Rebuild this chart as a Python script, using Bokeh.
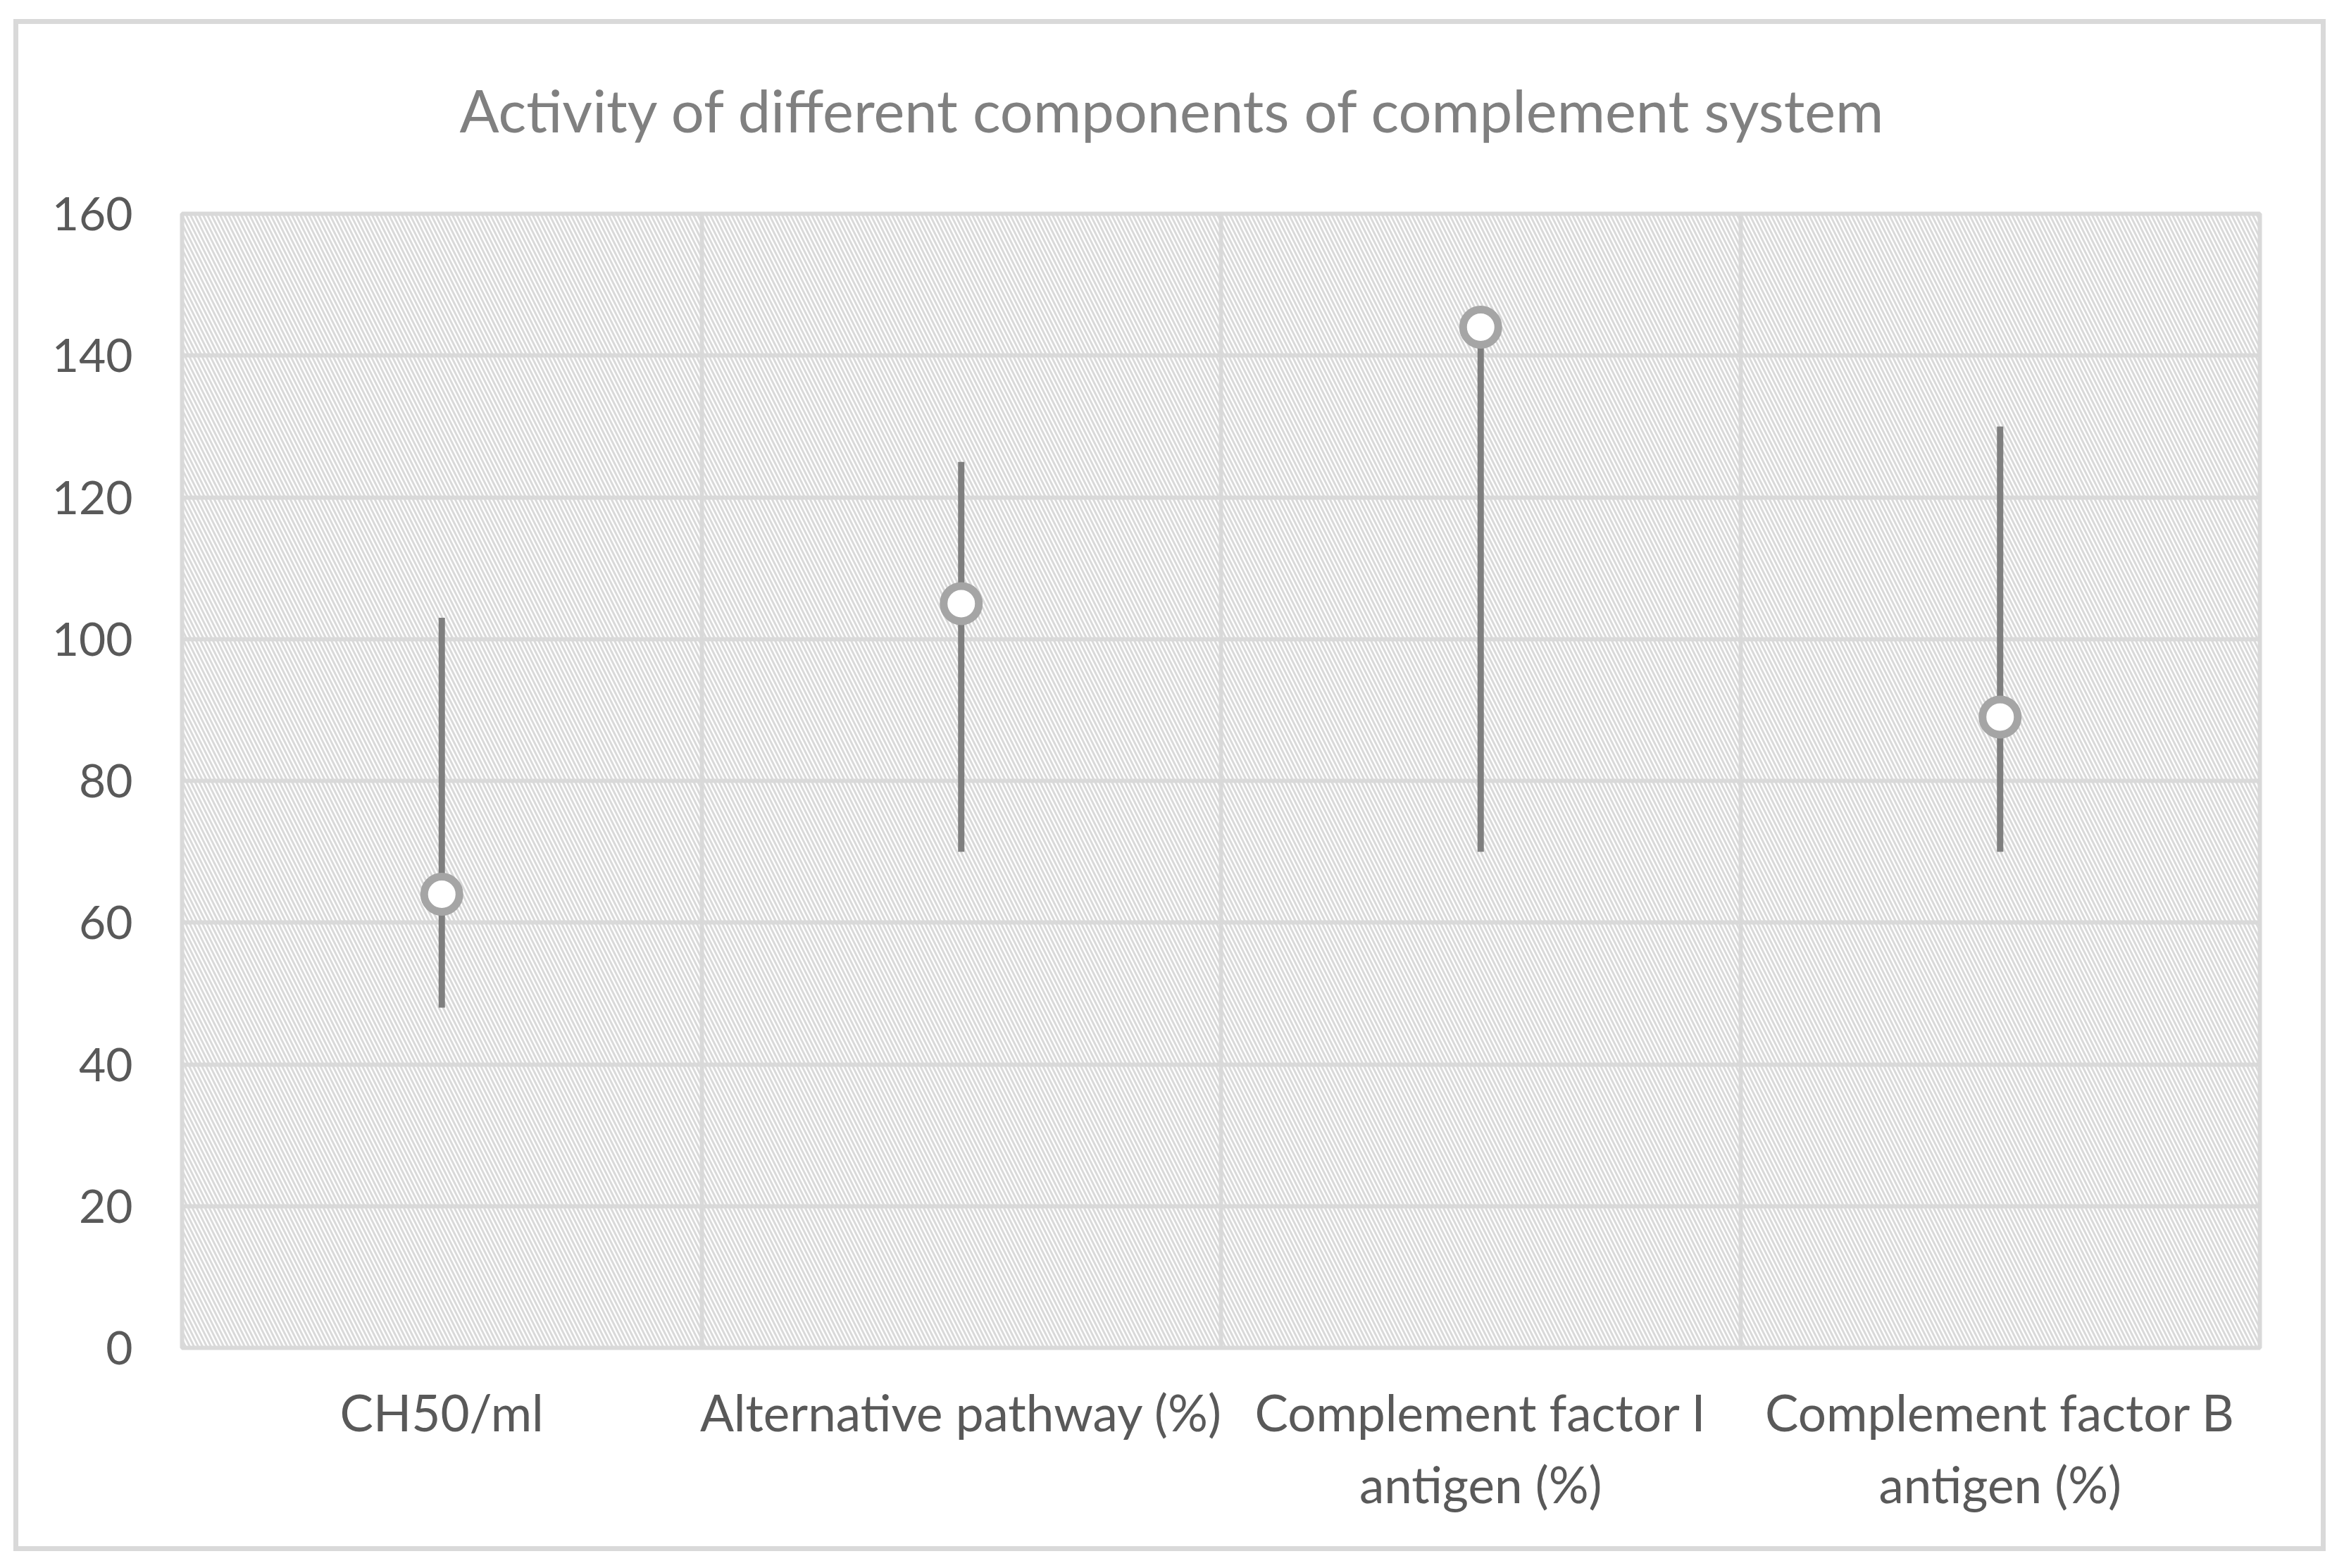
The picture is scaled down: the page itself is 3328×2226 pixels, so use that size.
from bokeh.plotting import figure
from bokeh.models import Range1d, FixedTicker, BoxAnnotation
from bokeh.embed import file_html
from bokeh.resources import INLINE
import numpy as np

categories = ["CH50/ml", "Alternative pathway (%)", "Complement factor I\nantigen (%)", "Complement factor B\nantigen (%)"]
mean_values = [64, 105, 144, 89]
low_values = [48, 70, 70, 70]
high_values = [103, 125, 144, 130]
y_ticks = [0, 20, 40, 60, 80, 100, 120, 140, 160]

FONT = "Lato"
x = list(np.arange(len(categories)) + 0.5)

W, H = 3320, 2220
p = figure(width=W, height=H, output_backend="svg", toolbar_location=None,
           x_range=Range1d(0, len(categories)), y_range=Range1d(0, 160),
           min_border_left=258, min_border_right=W - 3208, min_border_top=303, min_border_bottom=H - 1913,
           title="Activity of different components of complement system")

# outer chart frame (drawn as CSS background behind the transparent canvas border)
g = "linear-gradient(#d9d9d9,#d9d9d9)"
p.styles = {"background": (
    f"{g} 19px 27px / 3283px 7px no-repeat, "
    f"{g} 19px 2195px / 3283px 7px no-repeat, "
    f"{g} 19px 27px / 7px 2175px no-repeat, "
    f"{g} 3295px 27px / 7px 2175px no-repeat, white")}
p.border_fill_color = None

p.title.align = "left"
p.title.text_font = FONT
p.title.text_font_size = "83px"
p.title.text_font_style = "normal"
p.title.text_color = "#808080"
p.title.offset = 394
p.title.standoff = 195

p.outline_line_color = "#d9d9d9"
p.outline_line_width = 6
p.background_fill_color = "white"

hatch = BoxAnnotation(fill_alpha=0, line_alpha=0, hatch_pattern="left_diagonal_line",
                      hatch_color="#d9d9d9", hatch_scale=12, hatch_weight=3, level="underlay")
p.add_layout(hatch)

p.ygrid.ticker = FixedTicker(ticks=y_ticks)
p.ygrid.grid_line_color = "#d9d9d9"
p.ygrid.grid_line_width = 6
p.xgrid.ticker = FixedTicker(ticks=list(range(1, len(categories))))
p.xgrid.grid_line_color = "#d9d9d9"
p.xgrid.grid_line_width = 6

p.yaxis.ticker = FixedTicker(ticks=y_ticks)
p.yaxis.axis_line_color = None
p.yaxis.major_tick_line_color = None
p.yaxis.minor_tick_line_color = None
p.yaxis.major_label_text_font = FONT
p.yaxis.major_label_text_font_size = "66px"
p.yaxis.major_label_text_color = "#595959"
p.yaxis.major_label_standoff = 64

p.xaxis.ticker = FixedTicker(ticks=x)
p.xaxis.major_label_overrides = {float(xx): c for xx, c in zip(x, categories)}
p.xaxis.axis_line_color = None
p.xaxis.major_tick_line_color = None
p.xaxis.minor_tick_line_color = None
p.xaxis.major_label_text_font = FONT
p.xaxis.major_label_text_font_size = "71px"
p.xaxis.major_label_text_color = "#595959"
p.xaxis.major_label_standoff = 42

p.segment(x0=x, y0=low_values, x1=x, y1=high_values, line_width=9, line_color="#7f7f7f")
p.scatter(x=x, y=mean_values, size=50, fill_color="white", line_color="#a5a5a5", line_width=11)

open("out.html", "w").write(file_html(p, INLINE))
